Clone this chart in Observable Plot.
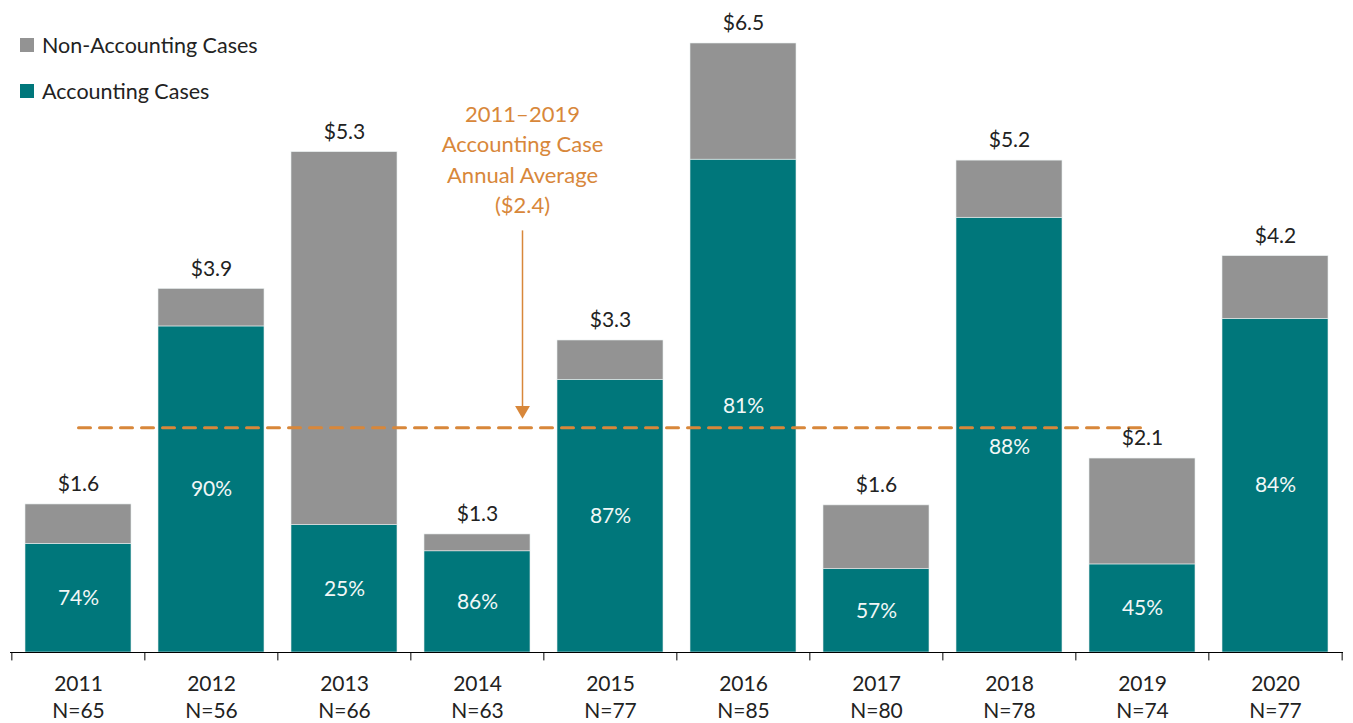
<!DOCTYPE html>
<html><head><meta charset="utf-8">
<script src="https://cdn.jsdelivr.net/npm/d3@7"></script>
<script src="https://cdn.jsdelivr.net/npm/@observablehq/plot@0.6"></script>
<style>
body{margin:0;background:#fff;font-family:Lato,sans-serif;}
#wrap{position:relative;width:1353px;height:723px;}
#legend{position:absolute;left:20px;top:33px;font-size:21.5px;color:#222;}
.item{display:flex;align-items:center;height:24px;margin-bottom:22px;}
.sw{width:14px;height:14px;margin-right:8px;}
</style></head><body><div id="wrap"><div id="legend"></div></div>
<script>
const years = ["2011","2012","2013","2014","2015","2016","2017","2018","2019","2020"];
const caseCounts = ["N=65","N=56","N=66","N=63","N=77","N=85","N=80","N=78","N=74","N=77"];
const totals = [1.58, 3.88, 5.34, 1.26, 3.33, 6.5, 1.57, 5.25, 2.07, 4.23];
const accounting = [1.16, 3.48, 1.36, 1.08, 2.91, 5.26, 0.89, 4.64, 0.94, 3.56];
const totalLabels = ["$1.6","$3.9","$5.3","$1.3","$3.3","$6.5","$1.6","$5.2","$2.1","$4.2"];
const pctLabels = ["74%","90%","25%","86%","87%","81%","57%","88%","45%","84%"];
const seriesNames = ["Accounting Cases","Non-Accounting Cases"];
const seriesColors = ["#00777B","#939393"];
const avgValue = 2.4;
const avgRange = ["2011","2019"];
const annotationText = "2011–2019\nAccounting Case\nAnnual Average\n($2.4)";
const shiftedPctYear = "2018";
const orange = "#D8873A";

const rows = [];
years.forEach((y,i)=>{
  rows.push({year:y, series:seriesNames[0], value:accounting[i]});
  rows.push({year:y, series:seriesNames[1], value:+(totals[i]-accounting[i]).toFixed(2)});
});
const totalsData = years.map((y,i)=>({year:y, total:totals[i], label:totalLabels[i]}));
const pctData = years.map((y,i)=>({year:y, mid:accounting[i]/2, label:pctLabels[i]}));
const labelData = years.map((y,i)=>({year:y, n:caseCounts[i]}));

const halfStep = 1333/10/2;
const txt = "#222";

const chart = Plot.plot({
  width:1353, height:723,
  marginLeft:10, marginRight:10, marginTop:43, marginBottom:71,
  style:{fontFamily:"Lato, sans-serif", background:"transparent", overflow:"visible"},
  x:{type:"band", domain:years, paddingInner:0.2, paddingOuter:0.1, axis:null},
  y:{domain:[0,6.5], axis:null},
  color:{domain:seriesNames, range:seriesColors},
  marks:[
    Plot.barY(rows, {x:"year", y:"value", fill:"series", stroke:"#e8eeee", strokeWidth:0.6}),
    Plot.line(avgRange.map(x=>({x, y:avgValue})), {x:"x", y:"y", stroke:orange, strokeWidth:3, strokeDasharray:"12,9"}),
    Plot.text(pctData.filter(d=>d.year!==shiftedPctYear), {x:"year", y:"mid", text:"label", fill:"#f2f7f7", fontSize:21}),
    Plot.text(pctData.filter(d=>d.year===shiftedPctYear), {x:"year", y:"mid", text:"label", fill:"#f2f7f7", fontSize:21, dy:12}),
    Plot.text(totalsData, {x:"year", y:"total", text:"label", fill:txt, fontSize:21, dy:-20}),
    Plot.ruleX([years[3]], {y1:4.5, y2:2.62, dx:45, stroke:orange, strokeWidth:1.5}),
    Plot.dot([years[3]], {x:d=>d, y:2.585, dx:45, symbol:"triangle", rotate:180, r:5.5, fill:orange, stroke:null}),
    Plot.text([annotationText], {x:()=>years[3], y:5.28, dx:45, text:d=>d, fill:orange, fontSize:22, lineHeight:1.37, lineAnchor:"middle"}),
    Plot.ruleY([0], {stroke:"#000", strokeWidth:1}),
    Plot.ruleX(years, {x:d=>d, y1:0, y2:-0.09, dx:-halfStep, stroke:"#000"}),
    Plot.ruleX([years[years.length-1]], {x:d=>d, y1:0, y2:-0.09, dx:halfStep, stroke:"#000"}),
    Plot.text(labelData, {x:"year", y:0, dy:32, text:"year", fill:txt, fontSize:21}),
    Plot.text(labelData, {x:"year", y:0, dy:59, text:"n", fill:txt, fontSize:21})
  ]
});
const wrap = document.getElementById("wrap");
wrap.insertBefore(chart, wrap.firstChild);
const legend = document.getElementById("legend");
[1,0].forEach(i=>{
  const d = document.createElement("div"); d.className="item";
  const s = document.createElement("span"); s.className="sw"; s.style.background=seriesColors[i];
  const t = document.createElement("span"); t.textContent=seriesNames[i];
  d.appendChild(s); d.appendChild(t); legend.appendChild(d);
});
</script></body></html>
